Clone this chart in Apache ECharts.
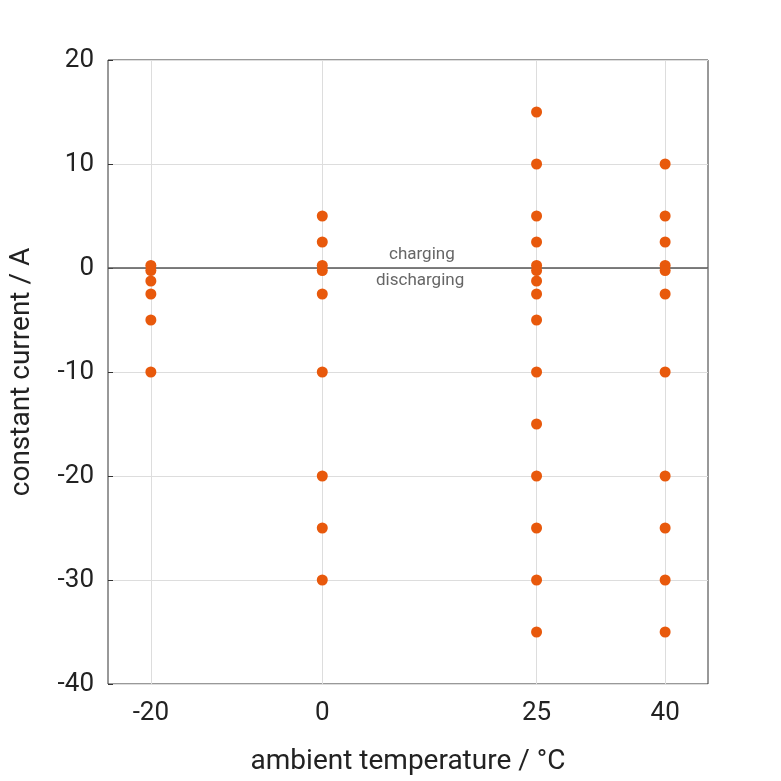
<!DOCTYPE html>
<html lang="en">
<head>
    <meta charset="UTF-8">
    <title>Constant current tests</title>
    <script src="https://cdn.jsdelivr.net/npm/echarts@6/dist/echarts.min.js"></script>
</head>
<body style="margin:0">
<div id="main" style="width: 781px;height:781px;"></div>
<script>
    var temps = [-20, 0, 25, 40];
    var currentsM20 = [0.25, -0.25, -1.25, -2.5, -5, -10];
    var currents0 = [5, 2.5, 0.25, -0.25, -2.5, -10, -20, -25, -30];
    var currents25 = [15, 10, 5, 2.5, 0.25, -0.25, -1.25, -2.5, -5, -10, -15, -20, -25, -30, -35];
    var currents40 = [10, 5, 2.5, 0.25, -0.25, -2.5, -10, -20, -25, -30, -35];

    var groups = [currentsM20, currents0, currents25, currents40];
    var points = [];
    groups.forEach(function (g, i) {
        g.forEach(function (c) { points.push([temps[i], c]); });
    });

    var myChart = echarts.init(document.getElementById('main'));
    myChart.setOption({
        textStyle: { fontFamily: 'Roboto' },
        grid: { left: 102, right: 73, top: 60, bottom: 95, show: true, borderColor: '#333', borderWidth: 1 },
        xAxis: {
            type: 'value', min: -25, max: 45, interval: 5,
            name: 'ambient temperature / °C', nameLocation: 'middle', nameGap: 64,
            nameTextStyle: { fontSize: 28, color: '#222' },
            axisLine: { show: false, onZero: false }, axisTick: { show: false }, splitLine: { show: false },
            axisLabel: {
                fontSize: 26, color: '#222', margin: 16,
                formatter: function (v) { return temps.indexOf(v) >= 0 ? String(v) : ''; }
            }
        },
        yAxis: {
            type: 'value', min: -40, max: 20, interval: 10,
            name: 'constant current / A', nameLocation: 'middle', nameGap: 72,
            nameTextStyle: { fontSize: 28, color: '#222' },
            axisLine: { show: false, onZero: false },
            axisTick: { show: true, inside: true, lineStyle: { color: '#333' } },
            splitLine: { lineStyle: { color: '#ddd' } },
            axisLabel: { fontSize: 26, color: '#222', margin: 14 }
        },
        series: [{
            type: 'scatter',
            data: points,
            symbolSize: 11,
            itemStyle: { color: '#e8590c', opacity: 1 },
            markLine: {
                silent: true, symbol: 'none', label: { show: false },
                data: temps.map(function (t) {
                    return { xAxis: t, lineStyle: { color: '#ddd', type: 'solid', width: 1 } };
                }).concat([{ yAxis: 0, lineStyle: { color: '#555', type: 'solid', width: 1.5 } }])
            },
            z: 5
        }],
        graphic: [
            { type: 'text', left: 389, top: 246, style: { text: 'charging', fontSize: 17, fill: '#666', fontFamily: 'Roboto' } },
            { type: 'text', left: 376, top: 272, style: { text: 'discharging', fontSize: 17, fill: '#666', fontFamily: 'Roboto' } }
        ]
    });
</script>
</body>
</html>
